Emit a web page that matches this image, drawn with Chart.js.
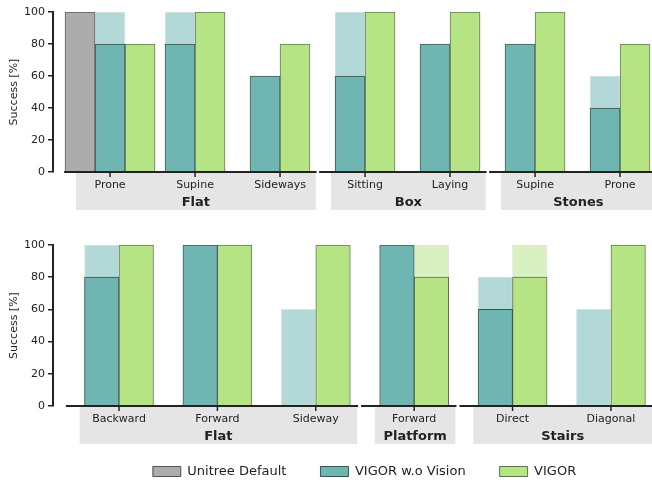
<!DOCTYPE html>
<html>
<head>
<meta charset="utf-8">
<script src="https://cdn.jsdelivr.net/npm/chart.js@4.4.0/dist/chart.umd.min.js"></script>
<style>
  html, body { margin: 0; padding: 0; background: #fff; overflow: hidden; width: 652px; height: 483px; }
  .clip { position: relative; width: 652px; overflow: hidden; }
  #topWrap { height: 222px; }
  #bottomWrap { height: 261px; }
  .box { position: relative; }
</style>
</head>
<body>
<div id="topWrap" class="clip"><div class="box" style="width:652px;height:222px"><canvas id="chartTop"></canvas></div></div>
<div id="bottomWrap" class="clip"><div class="box" style="width:729px;height:266px"><canvas id="chartBottom"></canvas></div></div>
<script>
// top panel: recovery from falls
const topCategories = ['Prone', 'Supine', 'Sideways', 'Sitting', 'Laying', 'Supine', 'Prone'];
const topGroups = ['Flat', 'Box', 'Stones'];
const topGroupSizes = [3, 2, 2];
const topUnitree = [100, null, null, null, null, null, null];
const topNoVision = [80, 80, 60, 60, 80, 80, 40];
const topNoVisionMax = [100, 100, null, 100, null, null, 60];
const topVigor = [80, 100, 80, 100, 100, 100, 80];
const topVigorMax = [null, null, null, null, null, null, null];

// bottom panel: locomotion
const botCategories = ['Backward', 'Forward', 'Sideway', 'Forward', 'Direct', 'Diagonal'];
const botGroups = ['Flat', 'Platform', 'Stairs'];
const botGroupSizes = [3, 1, 2];
const botUnitree = [null, null, null, null, null, null];
const botNoVision = [80, 100, null, 100, 60, null];
const botNoVisionMax = [100, null, 60, null, 80, 60];
const botVigor = [100, 100, 100, 80, 80, 100];
const botVigorMax = [null, null, null, 100, 100, null];

const yTicks = [0, 20, 40, 60, 80, 100];

Chart.defaults.font.family = 'DejaVu Sans';
Chart.defaults.color = '#222';

const INK = '#222';

function pts(vals) {
    return vals.map((v, i) => ({ x: i, y: v }));
}

// datasets are painted last-to-first, so each pale bar sits after its solid one
function makeDatasets(unitree, noVis, noVisMax, vigor, vigorMax, thick) {
    const base = { barThickness: thick, borderWidth: 1, borderSkipped: 'start' };
    return [
        { ...base, label: 'Unitree Default', stack: 'a', data: pts(unitree),
          backgroundColor: '#acacac', borderColor: 'rgba(40,40,40,0.75)' },
        { ...base, label: 'VIGOR w.o Vision', stack: 'b', data: pts(noVis),
          backgroundColor: '#6fb6b3', borderColor: 'rgba(25,50,48,0.8)' },
        { ...base, label: 'noVisionMax', light: true, stack: 'b', data: pts(noVisMax),
          backgroundColor: '#b2d8d7', borderColor: 'rgba(0,0,0,0.12)' },
        { ...base, label: 'VIGOR', stack: 'c', data: pts(vigor),
          backgroundColor: '#b6e485', borderColor: 'rgba(50,75,40,0.75)' },
        { ...base, label: 'vigorMax', light: true, stack: 'c', data: pts(vigorMax),
          backgroundColor: '#d9f0c0', borderColor: 'rgba(0,0,0,0.12)' }
    ];
}

// grey bands, broken baseline, tick marks and bold group names under the x axis
const groupBand = {
    id: 'groupBand',
    beforeDraw(chart, args, opts) {
        const x = chart.scales.x, area = chart.chartArea, ctx = chart.ctx;
        const step = x.getPixelForValue(1) - x.getPixelForValue(0);
        let i = 0;
        ctx.save();
        ctx.fillStyle = '#e5e5e5';
        opts.sizes.forEach(n => {
            const a = x.getPixelForValue(i) - 0.4 * step;
            const b = x.getPixelForValue(i + n - 1) + 0.42 * step;
            ctx.fillRect(a, area.bottom + 1, b - a, 37);
            i += n;
        });
        ctx.restore();
    },
    afterDraw(chart, args, opts) {
        const x = chart.scales.x, area = chart.chartArea, ctx = chart.ctx;
        const step = x.getPixelForValue(1) - x.getPixelForValue(0);
        let i = 0;
        ctx.save();
        ctx.strokeStyle = INK;
        ctx.fillStyle = INK;
        ctx.font = 'bold 13px "DejaVu Sans"';
        ctx.textAlign = 'center';
        ctx.textBaseline = 'middle';
        opts.sizes.forEach((n, g) => {
            const first = x.getPixelForValue(i), last = x.getPixelForValue(i + n - 1);
            ctx.lineWidth = 2;
            ctx.beginPath();
            ctx.moveTo(first - 0.54 * step, area.bottom);
            ctx.lineTo(last + 0.43 * step, area.bottom);
            ctx.stroke();
            ctx.lineWidth = 1.5;
            for (let k = i; k < i + n; k++) {
                const px = x.getPixelForValue(k);
                ctx.beginPath();
                ctx.moveTo(px, area.bottom);
                ctx.lineTo(px, area.bottom + 5);
                ctx.stroke();
            }
            const a = first - 0.4 * step, b = last + 0.42 * step;
            ctx.fillText(opts.names[g], (a + b) / 2, area.bottom + 31);
            i += n;
        });
        ctx.restore();
    }
};

function makeOptions(cats, names, sizes, xMax, xHeight, padTop, showLegend) {
    return {
        responsive: true,
        maintainAspectRatio: false,
        animation: false,
        layout: { padding: { top: padTop, left: 0, right: 0, bottom: 0 } },
        plugins: {
            tooltip: { enabled: false },
            groupBand: { names: names, sizes: sizes },
            legend: {
                display: showLegend,
                position: 'bottom',
                labels: {
                    boxWidth: 28,
                    boxHeight: 10,
                    padding: 34,
                    color: INK,
                    font: { size: 13 },
                    filter: (item, data) => !data.datasets[item.datasetIndex].light
                }
            }
        },
        scales: {
            x: {
                type: 'linear',
                offset: false,
                min: -0.671,
                max: xMax,
                afterBuildTicks: s => { s.ticks = cats.map((c, i) => ({ value: i })); },
                afterFit: s => { s.height = xHeight; s.paddingLeft = 0; s.paddingRight = 0; },
                ticks: {
                    callback: v => cats[v],
                    autoSkip: false,
                    maxRotation: 0,
                    padding: 3,
                    color: INK,
                    font: { size: 11 }
                },
                grid: { offset: false, drawOnChartArea: false, drawTicks: true, tickLength: 4, color: 'rgba(0,0,0,0)' },
                border: { display: false }
            },
            y: {
                min: 0,
                max: 100,
                stacked: false,
                afterBuildTicks: s => { s.ticks = yTicks.map(v => ({ value: v })); },
                afterFit: s => { s.width = 53; },
                ticks: { padding: 3, color: INK, font: { size: 11 } },
                grid: { drawOnChartArea: false, drawTicks: true, tickLength: 5, color: INK, lineWidth: 1.5 },
                border: { display: true, color: INK, width: 2 },
                title: { display: true, text: 'Success [%]', color: INK, font: { size: 11 }, padding: { top: 8, bottom: 0 } }
            }
        },
        datasets: { bar: { grouped: true, skipNull: true } }
    };
}

const chartTop = new Chart(document.getElementById('chartTop'), {
    type: 'bar',
    data: { datasets: makeDatasets(topUnitree, topNoVision, topNoVisionMax, topVigor, topVigorMax, 30) },
    options: makeOptions(topCategories, topGroups, topGroupSizes, 6.376, 50, 12, false),
    plugins: [groupBand]
});

const chartBottom = new Chart(document.getElementById('chartBottom'), {
    type: 'bar',
    data: { datasets: makeDatasets(botUnitree, botNoVision, botNoVisionMax, botVigor, botVigorMax, 34.5) },
    options: makeOptions(botCategories, botGroups, botGroupSizes, 6.2, 25, 23, true),
    plugins: [groupBand]
});
</script>
</body>
</html>
